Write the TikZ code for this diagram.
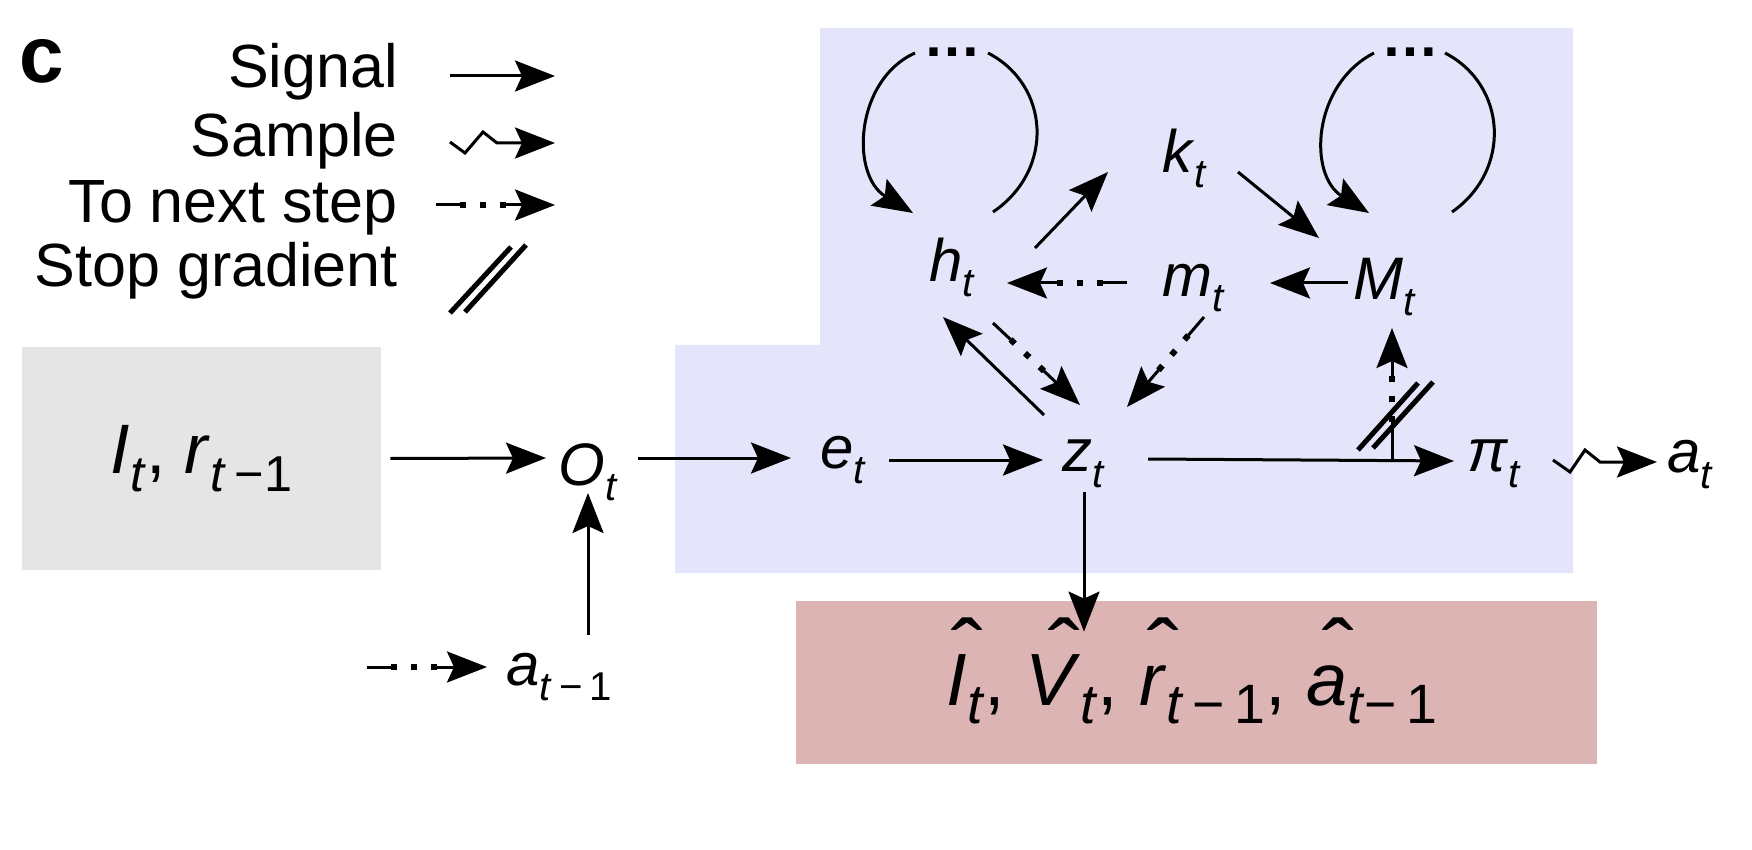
\documentclass[tikz,border=0pt]{standalone}
\usepackage{graphicx}
\usepackage{fontspec}
\setmainfont{Liberation Sans}
\usetikzlibrary{arrows.meta,calc}
\definecolor{bluebg}{RGB}{228,228,250}
\definecolor{graybg}{RGB}{229,229,229}
\definecolor{pinkbg}{RGB}{221,180,180}
\newcommand\sub[2][0.67]{\raisebox{-0.25em}{\scalebox{#1}{#2}}}
\newcommand\hatc[1]{\setbox0\hbox{#1}\rlap{\hbox to\wd0{\hss\kern0.3em\raisebox{0.3em}{\scalebox{1.3}[1.2]{ˆ}}\hss}}\box0}
\tikzset{
  sig/.style={line width=1.5pt, -{Stealth[length=20pt,width=15.5pt,inset=3.5pt]}},
  smp/.style={sig, line join=miter},
  nxt/.style={sig, dash pattern=on #1 off 23pt on 300pt,
    postaction={draw, -, line width=3pt, dash pattern=on 0pt off #1 on 3pt off 7pt on 3pt off 7pt on 3pt off 300pt}},
  nxt/.default=12pt,
  stopg/.style={line width=2.5pt},
  lbl/.style={inner sep=0pt, anchor=base, font=\fontsize{30pt}{36pt}\selectfont},
  legtxt/.style={inner sep=0pt, anchor=base east, font=\fontsize{30.5pt}{36pt}\selectfont},
  dotsl/.style={inner sep=0pt, font=\bfseries\fontsize{29pt}{36pt}\selectfont}
}
\begin{document}
\begin{tikzpicture}[x=0.5pt,y=-0.5pt]
\useasboundingbox (0,0) rectangle (1752,850);
% backgrounds
\fill[bluebg] (675,345) -- (820,345) -- (820,28) -- (1573,28) -- (1573,573) -- (675,573) -- cycle;
\node[fill=graybg, minimum width=179.5pt, minimum height=111.5pt, inner sep=0pt,
      font=\fontsize{35pt}{42pt}\selectfont] (obs) at (201.5,458.5)
      {\textit{I}\sub[0.72]{\textit{t}}, \textit{r}\sub[0.72]{\textit{t}\,−1}};
\node[fill=pinkbg, minimum width=400.5pt, minimum height=81.5pt, inner sep=0pt] (pinkbox) at (1196.5,682.5) {};
\node[inner sep=0pt, anchor=base, font=\fontsize{37pt}{44pt}\selectfont] (recon) at (1192,705)
  {\hatc{\textit{I}}\sub[0.75]{\textit{t}}, \hatc{\textit{V}}\sub[0.75]{\textit{t}}, \hatc{\textit{r}}\sub[0.75]{\textit{t}\,−\,1}, \hatc{\textit{a}}\sub[0.75]{\textit{t}−\,1}};
% panel letter and legend
\node[inner sep=0pt, font=\bfseries\fontsize{40pt}{44pt}\selectfont] (clab) at (42,61) {c};
\node[legtxt] (lsig) at (398,88) {Signal};
\node[legtxt] (lsmp) at (398,157) {Sample};
\node[legtxt] (lnxt) at (398,223) {To next step};
\node[legtxt] (lstp) at (398,287) {Stop gradient};
\coordinate (s1a) at (450,76); \coordinate (s1b) at (555,76);
\draw[sig] (s1a) -- (s1b);
\coordinate (s2a) at (450,142); \coordinate (s2b) at (555,143);
\draw[smp] (s2a) -- ++(15,11) -- ++(18,-21) -- ++(14,11) -- (s2b);
\coordinate (s3a) at (436,205); \coordinate (s3b) at (555,205);
\draw[nxt] (s3a) -- (s3b);
\draw[stopg] (450,313) -- (511,247);
\draw[stopg] (465,312) -- (526,245);
% labels
\node[lbl] (O) at (588,485) {\textit{O}\sub{\textit{t}}};
\node[lbl] (e) at (843,468) {\textit{e}\sub{\textit{t}}};
\node[lbl] (z) at (1084,472) {\textit{z}\sub{\textit{t}}};
\node[lbl] (pinode) at (1494,472) {\textit{π}\sub{\textit{t}}};
\node[lbl] (act) at (1690,473) {\textit{a}\sub{\textit{t}}};
\node[lbl] (at1) at (559,685) {\textit{a}\sub{\textit{t}\,−\,1}};
\node[lbl] (h) at (952,282) {\textit{h}\sub{\textit{t}}};
\node[lbl] (k) at (1185,173) {\textit{k}\sub{\textit{t}}};
\node[lbl] (m) at (1194,297) {\textit{m}\sub{\textit{t}}};
\node[lbl] (M) at (1385,300) {\textit{M}\sub{\textit{t}}};
\node[dotsl] (dl) at (952,52) {…};
\node[dotsl] (dr) at (1410,52) {…};
% loops
\begin{scope}[shift={(h.base)}]
\draw[sig] (-37,-229) .. controls (-97,-202) and (-102,-107) .. (-39,-69);
\draw[line width=1.5pt] (36,-229) .. controls (98,-197) and (103,-112) .. (41,-70);
\end{scope}
\begin{scope}[shift={(M.base)}]
\draw[sig] (-11,-247) .. controls (-73,-215) and (-77,-125) .. (-16,-87);
\draw[line width=1.5pt] (60,-247) .. controls (122,-215) and (127,-130) .. (67,-88);
\end{scope}
% connectors
\draw[sig] ($(obs.east)+(9,0)$) -- ($(O.base)+(-42,-27)$);
\draw[sig] ($(O.base)+(50,-27)$) -- ($(e.base)+(-52,-10)$);
\draw[sig] ($(e.base)+(46,-8)$) -- ($(z.base)+(-41,-12)$);
\draw[sig] ($(z.base)+(64,-13)$) -- ($(pinode.base)+(-40,-11)$);
\draw[smp] ($(pinode.base)+(59,-12)$) -- ++(17,12) -- ++(15,-22) -- ++(15,12) -- ($(act.base)+(-33,-11)$);
\draw[sig] ($(at1.base)+(29,-50)$) -- ($(O.base)+(0,8)$);
\coordinate (prev) at (367,667);
\draw[nxt] (prev) -- ($(at1.base)+(-72,-18)$);
\draw[sig] ($(z.base)+(0,20)$) -- ($(z.base |- pinkbox.north)+(0,31)$);
\draw[sig] ($(h.base)+(83,-34)$) -- ($(k.base)+(-77,-1)$);
\draw[sig] ($(k.base)+(53,-1)$) -- ($(M.base)+(-66,-62)$);
\draw[sig] ($(M.base)+(-37,-17)$) -- ($(m.base)+(76,-14)$);
\draw[nxt] ($(m.base)+(-67,-14)$) -- ($(h.base)+(55,1)$);
\draw[sig] ($(z.base)+(-40,-57)$) -- ($(h.base)+(-9,35)$);
\draw[nxt] ($(h.base)+(41,41)$) -- ($(z.base)+(-4,-67)$);
\draw[nxt] ($(m.base)+(10,20)$) -- ($(z.base)+(43,-65)$);
\draw[nxt=19pt] ($(M.base |- z.base)+(7,-12)$) -- ($(M.base)+(7,28)$);
\draw[stopg] (1358,450) -- (1418,383);
\draw[stopg] (1373,448) -- (1433,382);
\end{tikzpicture}
\end{document}
